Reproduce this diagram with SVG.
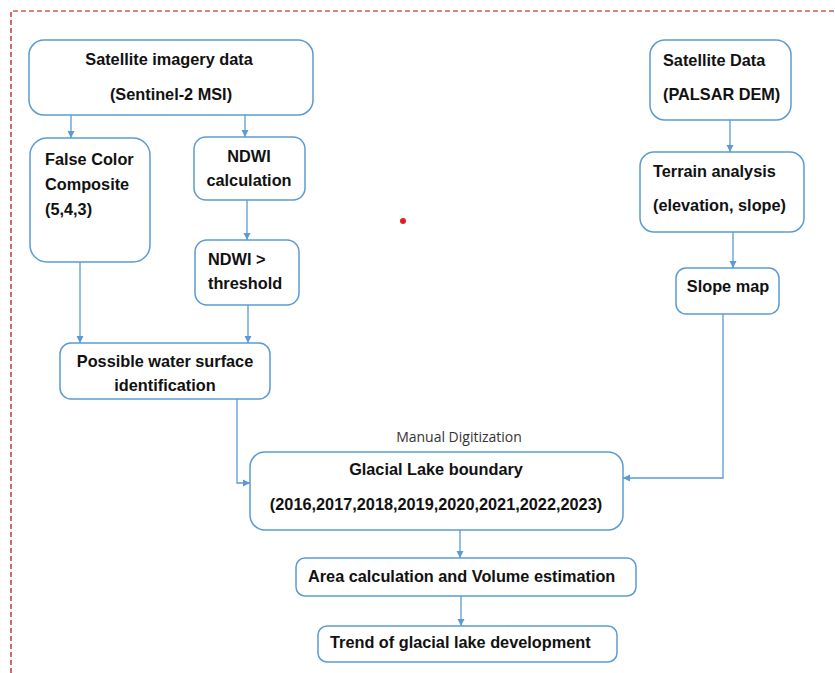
<svg xmlns="http://www.w3.org/2000/svg" width="835" height="673" viewBox="0 0 835 673">
<defs>
<marker id="ah" markerWidth="8" markerHeight="8" refX="7" refY="4" orient="auto" markerUnits="userSpaceOnUse">
<path d="M0,0.5 L7,4 L0,7.5 Z" fill="#5b9bd5"/>
</marker>
</defs>
<style>
.box{fill:#fff;stroke:#5b9bd5;stroke-width:1.5}
.t{font-family:"Liberation Sans",Arial,sans-serif;font-weight:bold;font-size:16.3px;fill:#111}
.c{text-anchor:middle}
.lbl{font-family:"Open Sans","Liberation Sans",sans-serif;font-size:14px;fill:#333}
.con{fill:none;stroke:#5b9bd5;stroke-width:1.3;marker-end:url(#ah)}
</style>
<rect width="835" height="673" fill="#fff"/>
<path d="M11,673 L11,11 L835,11" fill="none" stroke="#c00000" stroke-width="1.2" stroke-dasharray="5 3"/>
<circle cx="403" cy="221" r="3" fill="#e02020"/>

<g id="connectors">
<path class="con" d="M71,115 V138"/>
<path class="con" d="M245,115 V137"/>
<path class="con" d="M247,200 V240"/>
<path class="con" d="M80,262 V343"/>
<path class="con" d="M248,305 V343"/>
<path class="con" d="M237,399 V483 H250"/>
<path class="con" d="M723,314 V478 H623"/>
<path class="con" d="M730,120 V152"/>
<path class="con" d="M733,232 V268"/>
<path class="con" d="M460,530 V558"/>
<path class="con" d="M461,596 V626"/>
</g>

<g id="sat-imagery">
<rect class="box" x="29" y="40" width="284" height="75" rx="15"/>
<text class="t c" x="169" y="65">Satellite imagery data</text>
<text class="t c" x="171" y="100">(Sentinel-2 MSI)</text>
</g>
<g id="fcc">
<rect class="box" x="30" y="138" width="120" height="124" rx="17"/>
<text class="t" x="45" y="165">False Color</text>
<text class="t" x="45" y="190">Composite</text>
<text class="t" x="45" y="215">(5,4,3)</text>
</g>
<g id="ndwi-calc">
<rect class="box" x="194" y="137" width="111" height="63" rx="12"/>
<text class="t c" x="249" y="162">NDWI</text>
<text class="t c" x="249" y="186">calculation</text>
</g>
<g id="ndwi-thr">
<rect class="box" x="195" y="240" width="104" height="65" rx="12"/>
<text class="t" x="208" y="265">NDWI &gt;</text>
<text class="t" x="208" y="289">threshold</text>
</g>
<g id="water">
<rect class="box" x="60" y="343" width="210" height="56" rx="11"/>
<text class="t c" x="165" y="367">Possible water surface</text>
<text class="t c" x="165" y="391">identification</text>
</g>
<g id="palsar">
<rect class="box" x="650" y="40" width="141" height="80" rx="15"/>
<text class="t" x="663" y="66">Satellite Data</text>
<text class="t" x="663" y="100">(PALSAR DEM)</text>
</g>
<g id="terrain">
<rect class="box" x="640" y="152" width="164" height="80" rx="14"/>
<text class="t" x="653" y="177">Terrain analysis</text>
<text class="t" x="653" y="211">(elevation, slope)</text>
</g>
<g id="slope">
<rect class="box" x="676" y="268" width="103" height="46" rx="10"/>
<text class="t c" x="728" y="292">Slope map</text>
</g>
<g id="glacial">
<text class="lbl c" x="459" y="442">Manual Digitization</text>
<rect class="box" x="250" y="452" width="373" height="78" rx="15"/>
<text class="t c" x="436" y="475">Glacial Lake boundary</text>
<text class="t c" x="436" y="510">(2016,2017,2018,2019,2020,2021,2022,2023)</text>
</g>
<g id="area">
<rect class="box" x="296" y="558" width="340" height="38" rx="9"/>
<text class="t" x="308" y="582">Area calculation and Volume estimation</text>
</g>
<g id="trend">
<rect class="box" x="318" y="626" width="299" height="36" rx="9"/>
<text class="t" x="330" y="648">Trend of glacial lake development</text>
</g>
</svg>
